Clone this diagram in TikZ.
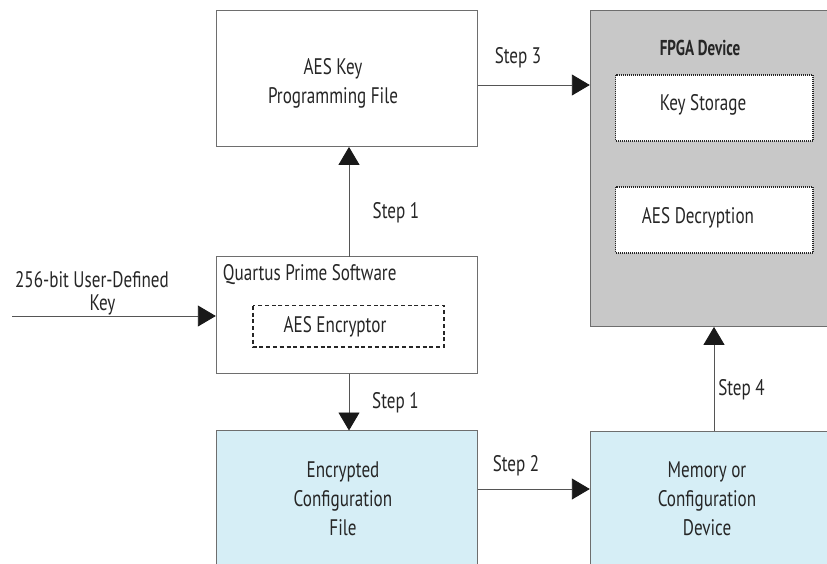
\documentclass[tikz,border=0pt]{standalone}
\usepackage{fontspec}
\setmainfont[FakeStretch=0.76]{PT Sans}
\newfontfamily\fpgafont[FakeStretch=0.7]{PT Sans}
\usetikzlibrary{arrows.meta}
\definecolor{boxline}{HTML}{6E6E6E}
\definecolor{bluefill}{HTML}{D6EEF6}
\definecolor{grayfill}{HTML}{C8C8C8}
\definecolor{conn}{HTML}{555555}
\tikzset{
  txt/.style={inner sep=0pt, align=center, font=\fontsize{22.5}{29}\selectfont, text=black!85},
  arr/.style={draw=conn, line width=0.9pt, -{Triangle[length=18pt,width=21pt,color=black!90]}},
  inbox/.style={draw=black!85, line width=1.1pt, fill=white, inner sep=0pt},
  dotline/.style={dash pattern=on 1pt off 1pt}
}
\begin{document}
\begin{tikzpicture}[x=1pt,y=-1pt]
\useasboundingbox (0,0) rectangle (827,563);
\clip (0,0) rectangle (827,563);
% boxes
\path[draw=boxline, line width=1pt, fill=white] (216,10.7) rectangle (477.7,146.7);
\node[inner sep=0pt, minimum width=261.7pt, minimum height=136pt] (keyfile) at (346.85,78.7) {};
\path[draw=boxline, line width=1pt, fill=grayfill] (590,10.7) rectangle (860,326.7);
\node[inner sep=0pt, minimum width=270pt, minimum height=316pt] (fpga) at (725,168.7) {};
\path[inbox, dotline] (615.7,75) rectangle (813,141);
\node[inner sep=0pt, minimum width=197.3pt, minimum height=66pt] (keystore) at (714.35,108) {};
\path[inbox, dotline] (615.7,187) rectangle (813,253);
\node[inner sep=0pt, minimum width=197.3pt, minimum height=66pt] (aesdec) at (714.35,220) {};
\path[draw=boxline, line width=1pt, fill=white] (216,256.7) rectangle (477.7,373.3);
\node[inner sep=0pt, minimum width=261.7pt, minimum height=116.6pt] (quartus) at (346.85,315) {};
\path[draw=black!85, line width=1.1pt, dash pattern=on 4pt off 2.8pt] (253,305.7) rectangle (444,347);
\node[inner sep=0pt, minimum width=191pt, minimum height=41.3pt] (aesenc) at (348.5,326.35) {};
\path[draw=boxline, line width=1pt, fill=bluefill] (216,430.7) rectangle (477.7,600);
\node[inner sep=0pt, minimum width=261.7pt, minimum height=169.3pt] (enc) at (346.85,515.35) {};
\path[draw=boxline, line width=1pt, fill=bluefill] (590,431) rectangle (860,600);
\node[inner sep=0pt, minimum width=270pt, minimum height=169pt] (mem) at (725,515.5) {};
% texts
\node[txt] (t1) at (333,83) {AES Key\\Programming File};
\node[txt, font=\fontsize{21.5}{29}\fpgafont\bfseries] (t2) at (700,48) {FPGA Device};
\node[txt] (t3) at (703,105) {Key Storage};
\node[txt] (t4) at (698,218) {AES Decryption};
\node[txt, anchor=west] (t5) at (222.7,275) {Quartus Prime Software};
\node[txt] (t6) at (335,327) {AES Encryptor};
\node[txt] (t7) at (343,498.5) {Encrypted\\Configuration\\File};
\node[txt] (t8) at (707,498.5) {Memory or\\Configuration\\Device};
\node[txt] (t9) at (92,280) {256-bit User-Defined};
\node[txt] (t10) at (102.5,305) {Key};
\node[txt] (s1a) at (396,213) {Step 1};
\node[txt] (s1b) at (395.5,403) {Step 1};
\node[txt] (s3) at (518,58) {Step 3};
\node[txt] (s2) at (516,466) {Step 2};
\node[txt] (s4) at (741.5,390) {Step 4};
% connectors
\coordinate (kin) at (12,316);
\draw[arr] (kin) -- (kin -| quartus.west);
\draw[arr] (quartus.north -| 349,0) -- (keyfile.south -| 349,0);
\draw[arr] (quartus.south -| 349,0) -- (enc.north -| 349,0);
\draw[arr] (keyfile.east |- 0,85) -- (fpga.west |- 0,85);
\draw[arr] (enc.east |- 0,489) -- (mem.west |- 0,489);
\draw[arr] (mem.north -| 714,0) -- (fpga.south -| 714,0);
\end{tikzpicture}
\end{document}
